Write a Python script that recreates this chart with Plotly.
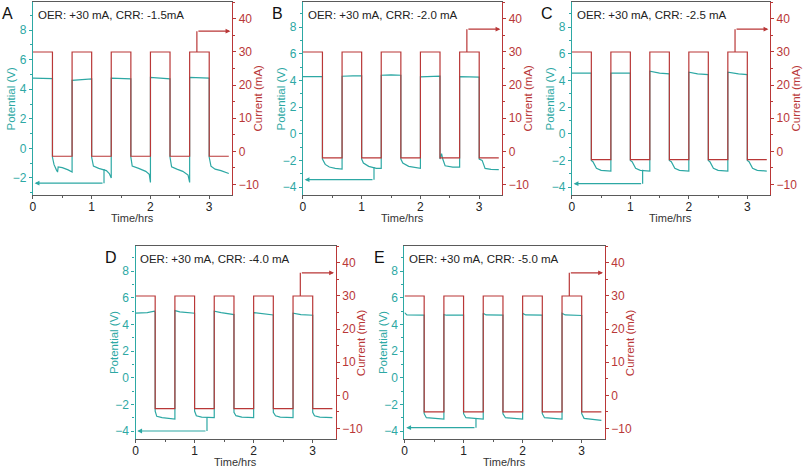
import plotly.graph_objects as go

# ---------------- data ----------------
switch_t = [0, 0.333, 0.667, 1.0, 1.333, 1.667, 2.0, 2.333, 2.667, 3.0, 3.333]
panel_letters = ["A", "B", "C", "D", "E"]
panel_labels = ["OER: +30 mA, CRR: -1.5mA", "OER: +30 mA, CRR: -2.0 mA",
                "OER: +30 mA, CRR: -2.5 mA", "OER: +30 mA, CRR: -4.0 mA",
                "OER: +30 mA, CRR: -5.0 mA"]
oer_current = 30
crr_current = [-1.5, -2.0, -2.5, -4.0, -5.0]

x_ticks = [0, 1, 2, 3]
pot_range = [[-3.15, 9.9], [-4.6, 9.9], [-4.6, 9.9], [-4.6, 9.9], [-4.6, 9.9]]
cur_range = [-13.2, 45.1]
time_range = [0, 3.39]

A_t = [0, 0.333, 0.333, 0.36, 0.40, 0.42, 0.43, 0.5, 0.6, 0.667,
       0.667, 0.8, 1.0, 1.0, 1.03, 1.12, 1.25, 1.3, 1.333,
       1.333, 1.5, 1.667, 1.667, 1.69, 1.8, 1.92, 1.98, 2.0,
       2.0, 2.15, 2.333, 2.333, 2.36, 2.45, 2.55, 2.64, 2.667,
       2.667, 2.85, 3.0, 3.0, 3.03, 3.1, 3.2, 3.333]
A_v = [4.75, 4.72, -0.6, -1.1, -1.45, -1.6, -1.25, -1.3, -1.45, -1.6,
       4.6, 4.65, 4.7, -0.6, -1.2, -1.35, -1.5, -1.7, -2.0,
       4.75, 4.72, 4.7, -0.6, -1.2, -1.35, -1.55, -1.75, -2.3,
       4.8, 4.75, 4.7, -0.6, -1.25, -1.4, -1.55, -1.8, -2.3,
       4.8, 4.78, 4.75, -0.6, -1.2, -1.4, -1.5, -1.7]

B_t = [0, 0.333, 0.333, 0.38, 0.45, 0.55, 0.667,
       0.667, 0.85, 1.0, 1.0, 1.03, 1.12, 1.25, 1.333,
       1.333, 1.5, 1.667, 1.667, 1.70, 1.8, 1.9, 2.0,
       2.0, 2.15, 2.333, 2.333, 2.36, 2.38, 2.42, 2.55, 2.667,
       2.667, 2.85, 3.0, 3.0, 3.05, 3.1, 3.2, 3.333]
B_v = [4.3, 4.3, -1.9, -2.3, -2.5, -2.6, -2.65,
       4.32, 4.35, 4.35, -1.9, -2.2, -2.45, -2.6, -2.6,
       4.4, 4.42, 4.4, -1.9, -2.2, -2.45, -2.55, -2.6,
       4.28, 4.32, 4.33, -1.9, -1.5, -1.9, -2.4, -2.5, -2.5,
       4.3, 4.28, 4.25, -1.9, -2.0, -2.6, -2.68, -2.7]

C_t = [0, 0.333, 0.333, 0.36, 0.42, 0.5, 0.667,
       0.667, 0.85, 1.0, 1.0, 1.03, 1.09, 1.17, 1.333,
       1.333, 1.5, 1.667, 1.667, 1.70, 1.76, 1.84, 2.0,
       2.0, 2.15, 2.333, 2.333, 2.36, 2.42, 2.5, 2.667,
       2.667, 2.85, 3.0, 3.0, 3.03, 3.09, 3.17, 3.333]
C_v = [4.55, 4.55, -2.0, -2.1, -2.6, -2.75, -2.8,
       4.55, 4.55, 4.55, -2.0, -2.1, -2.6, -2.75, -2.8,
       4.7, 4.55, 4.5, -2.0, -2.1, -2.6, -2.75, -2.8,
       4.62, 4.5, 4.45, -2.0, -2.1, -2.6, -2.75, -2.8,
       4.62, 4.5, 4.45, -2.0, -2.1, -2.6, -2.75, -2.8]

D_t = [0, 0.2, 0.32, 0.333, 0.333, 0.36, 0.45, 0.667,
       0.667, 0.75, 1.0, 1.0, 1.03, 1.12, 1.333,
       1.333, 1.45, 1.667, 1.667, 1.70, 1.8, 2.0,
       2.0, 2.15, 2.333, 2.333, 2.37, 2.45, 2.667,
       2.667, 2.8, 3.0, 3.0, 3.03, 3.12, 3.333]
D_v = [4.85, 4.9, 5.0, 4.9, -2.5, -2.9, -3.0, -3.1,
       5.05, 4.95, 4.85, -2.5, -2.85, -2.95, -3.0,
       5.0, 4.9, 4.75, -2.6, -2.85, -2.95, -3.0,
       4.9, 4.8, 4.72, -2.6, -2.85, -2.95, -3.0,
       4.85, 4.75, 4.7, -2.6, -2.85, -2.95, -3.0]

E_t = [0, 0.04, 0.333, 0.333, 0.37, 0.5, 0.667,
       0.667, 0.71, 1.0, 1.0, 1.04, 1.2, 1.333,
       1.333, 1.38, 1.667, 1.667, 1.71, 1.85, 2.0,
       2.0, 2.05, 2.333, 2.333, 2.37, 2.5, 2.667,
       2.667, 2.72, 3.0, 3.0, 3.04, 3.2, 3.333]
E_v = [4.9, 4.72, 4.7, -2.7, -3.0, -3.05, -3.1,
       4.75, 4.7, 4.7, -2.7, -3.0, -3.05, -3.1,
       4.85, 4.72, 4.7, -2.7, -3.0, -3.05, -3.1,
       4.85, 4.72, 4.7, -2.7, -3.0, -3.05, -3.1,
       4.85, 4.72, 4.68, -2.7, -3.05, -3.15, -3.2]

pot_t = [A_t, B_t, C_t, D_t, E_t]
pot_v = [A_v, B_v, C_v, D_v, E_v]

# arrows
teal_arrow_x = 1.21
teal_arrow_from = [-1.4, -2.5, -2.7, -3.0, -3.05]
teal_arrow_level = [-2.35, -3.45, -3.75, -4.0, -3.75]
teal_arrow_tip = 0.03
red_arrow_x = 2.79
red_arrow_level = [36.3, 36.9, 36.9, 37.0, 37.0]
red_arrow_tip = 3.36

# ---------------- style / layout ----------------
W, H = 803, 468
TEAL = "rgb(45,168,164)"
RED = "rgb(185,55,55)"
GRAY = "rgb(90,90,90)"
FONT = "Liberation Sans, Arial, sans-serif"

# panel pixel boxes (left, right, top, bottom)
boxes = [(30, 230, 2, 195), (301, 501, 2, 195), (571, 770, 2, 195),
         (133, 334, 246, 439), (403, 604, 246, 439)]

fig = go.Figure()
annotations = []

for i in range(5):
    n = i + 1
    xa = f"x{n}" if n > 1 else "x"
    yl_n = 2 * i + 1
    yr_n = 2 * i + 2
    yl = f"y{yl_n}" if yl_n > 1 else "y"
    yr = f"y{yr_n}"
    L, R, T, B = boxes[i]
    xd = [L / W, R / W]
    yd = [1 - B / H, 1 - T / H]

    cur_vals = [oer_current if k % 2 == 0 else crr_current[i] for k in range(len(switch_t) - 1)]
    cur_vals.append(cur_vals[-1])
    fig.add_trace(go.Scatter(x=switch_t, y=cur_vals, mode="lines", line_shape="hv",
                             line=dict(color=RED, width=1.2), xaxis=xa, yaxis=yr,
                             showlegend=False, hoverinfo="skip"))
    fig.add_trace(go.Scatter(x=pot_t[i], y=pot_v[i], mode="lines",
                             line=dict(color=TEAL, width=1.2), xaxis=xa, yaxis=yl,
                             showlegend=False, hoverinfo="skip"))
    fig.add_trace(go.Scatter(x=[teal_arrow_x, teal_arrow_x],
                             y=[teal_arrow_from[i], teal_arrow_level[i]], mode="lines",
                             line=dict(color=TEAL, width=1.2), xaxis=xa, yaxis=yl,
                             showlegend=False, hoverinfo="skip"))
    fig.add_trace(go.Scatter(x=[red_arrow_x, red_arrow_x],
                             y=[oer_current, red_arrow_level[i]], mode="lines",
                             line=dict(color=RED, width=1.2), xaxis=xa, yaxis=yr,
                             showlegend=False, hoverinfo="skip"))

    xkey = "xaxis" if n == 1 else f"xaxis{n}"
    ylkey = "yaxis" if yl_n == 1 else f"yaxis{yl_n}"
    yrkey = f"yaxis{yr_n}"
    fig.layout[xkey] = dict(domain=xd, range=time_range, anchor=yl, tickvals=x_ticks,
                            ticks="outside", ticklen=3, tickcolor=GRAY, showline=True,
                            linecolor=GRAY, linewidth=1.2, mirror=True, showgrid=False,
                            zeroline=False, ticklabelstandoff=-3,
                            tickfont=dict(family=FONT, size=12, color="#222"),
                            minor=dict(dtick=0.5, ticks="outside", ticklen=2, tickcolor=GRAY))
    fig.layout[ylkey] = dict(domain=yd, range=pot_range[i], anchor=xa, dtick=2,
                             ticks="outside", ticklen=3, tickcolor=TEAL, showline=True,
                             linecolor=TEAL, linewidth=1.2, showgrid=False, zeroline=False,
                             tickfont=dict(family=FONT, size=12, color=TEAL),
                             minor=dict(dtick=1, ticks="outside", ticklen=2, tickcolor=TEAL))
    fig.layout[yrkey] = dict(domain=yd, range=cur_range, anchor=xa, overlaying=yl,
                             side="right", dtick=10, ticks="outside", ticklen=3,
                             tickcolor=RED, showline=True, linecolor=RED, linewidth=1.2,
                             showgrid=False, zeroline=False,
                             tickfont=dict(family=FONT, size=12, color=RED),
                             minor=dict(dtick=5, ticks="outside", ticklen=2, tickcolor=RED))

    annotations.append(dict(x=teal_arrow_tip, y=teal_arrow_level[i], ax=teal_arrow_x,
                            ay=teal_arrow_level[i], xref=xa, yref=yl, axref=xa, ayref=yl,
                            showarrow=True, arrowhead=2, arrowsize=0.8, arrowwidth=1.2,
                            arrowcolor=TEAL, text=""))
    annotations.append(dict(x=red_arrow_tip, y=red_arrow_level[i], ax=red_arrow_x,
                            ay=red_arrow_level[i], xref=xa, yref=yr, axref=xa, ayref=yr,
                            showarrow=True, arrowhead=2, arrowsize=0.8, arrowwidth=1.2,
                            arrowcolor=RED, text=""))
    annotations.append(dict(x=(L + 3) / W, y=1 - (T + 13) / H, xref="paper", yref="paper",
                            text=panel_labels[i], showarrow=False, xanchor="left",
                            yanchor="middle", font=dict(family=FONT, size=11.5, color="#222")))
    annotations.append(dict(x=(L - 33) / W, y=1 - (T + 11) / H, xref="paper", yref="paper",
                            text=panel_letters[i], showarrow=False, xanchor="left",
                            yanchor="middle", font=dict(family=FONT, size=16, color="#111")))
    annotations.append(dict(x=(L + R) / 2 / W, y=1 - (B + 23) / H, xref="paper", yref="paper",
                            text="Time/hrs", showarrow=False, xanchor="center",
                            yanchor="middle", font=dict(family=FONT, size=11, color="#333")))
    annotations.append(dict(x=(L - 22) / W, y=1 - (T + B) / 2 / H, xref="paper", yref="paper",
                            text="Potential (V)", showarrow=False, textangle=-90,
                            xanchor="center", yanchor="middle",
                            font=dict(family=FONT, size=11.5, color=TEAL)))
    annotations.append(dict(x=(R + 25) / W, y=1 - (T + B) / 2 / H, xref="paper", yref="paper",
                            text="Current (mA)", showarrow=False, textangle=-90,
                            xanchor="center", yanchor="middle",
                            font=dict(family=FONT, size=11.5, color=RED)))

fig.update_layout(width=W, height=H, margin=dict(l=0, r=0, t=0, b=0),
                  paper_bgcolor="white", plot_bgcolor="white",
                  annotations=annotations, showlegend=False)

fig.write_html("out.html", config={"displayModeBar": False},
               post_script="document.body.style.margin='0';document.body.style.overflow='hidden';")
